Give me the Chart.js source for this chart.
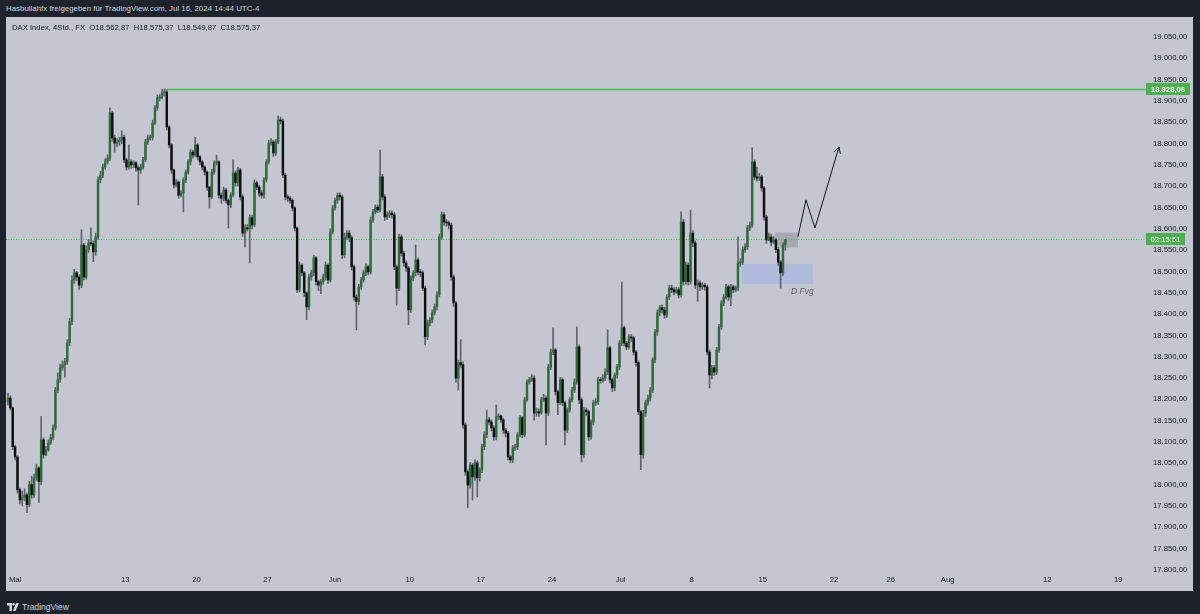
<!DOCTYPE html>
<html lang="de">
<head>
<meta charset="utf-8">
<title>DAX Index, 4Std., FX</title>
<script src="https://cdn.jsdelivr.net/npm/chart.js@4.4.1/dist/chart.umd.min.js"></script>
<style>
  html, body { margin: 0; padding: 0; }
  body {
    width: 1200px; height: 614px; overflow: hidden; position: relative;
    background: #1e222d; font-family: "Liberation Sans", Arial, sans-serif;
  }
  #header {
    position: absolute; left: 6px; top: 4px; color: #d1d4dc;
    font-size: 7.9px; line-height: 10px; white-space: nowrap;
  }
  #pane {
    position: absolute; left: 6px; top: 17px; width: 1187px; height: 574px;
    background: #c4c7d2;
  }
  #legend {
    position: absolute; left: 6px; top: 6px; color: #131722;
    font-size: 7.7px; line-height: 10px; white-space: pre;
  }
  #footer {
    position: absolute; left: 7px; top: 602px; color: #d1d4dc;
    font-size: 8.5px; line-height: 10px; display: flex; align-items: center; gap: 3px;
  }
</style>
</head>
<body>
<div id="header">Hasbullahfx freigegeben für TradingView.com, Jul 16, 2024 14:44 UTC-4</div>
<div id="pane">
  <canvas id="chart" width="1187" height="574"></canvas>
  <div id="legend">DAX Index, 4Std., FX  O18.562,87  H18.575,37  L18.549,87  C18.575,37</div>
</div>
<div id="footer">
  <svg width="12" height="8" viewBox="0 0 12 8">
    <path d="M0 0h5v8H2.5V2.5H0z" fill="#d1d4dc"/>
    <circle cx="6.6" cy="1.3" r="1.3" fill="#d1d4dc"/>
    <path d="M9 0h3L8.6 8H6z" fill="#d1d4dc"/>
  </svg>
  <span>TradingView</span>
</div>
<script>
// 4h candles, 1 May - 16 Jul 2024 (6 per trading day)
const opens = [
  18194, 18203, 18180, 18089, 18065, 17988, 17964, 17971, 17976, 17953,
  18000, 17976, 18016, 18039, 18007, 18105, 18070, 18082, 18098, 18110,
  18133, 18222, 18246, 18274, 18281, 18288, 18333, 18382, 18480, 18497,
  18487, 18468, 18562, 18487, 18551, 18567, 18565, 18546, 18581, 18715,
  18726, 18745, 18757, 18766, 18872, 18813, 18801, 18804, 18808, 18815,
  18762, 18745, 18757, 18750, 18755, 18743, 18738, 18745, 18762, 18804,
  18813, 18815, 18848, 18884, 18907, 18909, 18919, 18921, 18839, 18797,
  18738, 18703, 18710, 18679, 18684, 18715, 18733, 18757, 18780, 18773,
  18797, 18769, 18757, 18745, 18733, 18698, 18675, 18733, 18755, 18757,
  18679, 18672, 18691, 18667, 18656, 18679, 18731, 18708, 18738, 18675,
  18590, 18602, 18600, 18626, 18609, 18708, 18698, 18684, 18679, 18715,
  18757, 18801, 18804, 18778, 18804, 18855, 18853, 18726, 18675, 18672,
  18667, 18649, 18602, 18457, 18515, 18497, 18450, 18417, 18487, 18497,
  18532, 18476, 18468, 18476, 18487, 18515, 18480, 18593, 18649, 18667,
  18679, 18675, 18539, 18581, 18590, 18579, 18511, 18440, 18429, 18464,
  18480, 18497, 18511, 18499, 18621, 18640, 18651, 18644, 18722, 18675,
  18628, 18633, 18637, 18633, 18511, 18461, 18581, 18543, 18520, 18508,
  18410, 18485, 18497, 18527, 18499, 18497, 18461, 18347, 18379, 18386,
  18403, 18417, 18445, 18581, 18633, 18616, 18614, 18609, 18487, 18426,
  18250, 18286, 18281, 18140, 18030, 17999, 18046, 18018, 18051, 18016,
  18035, 18089, 18117, 18152, 18147, 18133, 18112, 18159, 18161, 18152,
  18128, 18121, 18065, 18058, 18086, 18089, 18117, 18157, 18117, 18199,
  18241, 18246, 18250, 18168, 18171, 18168, 18199, 18203, 18168, 18276,
  18311, 18316, 18218, 18192, 18246, 18192, 18128, 18175, 18199, 18222,
  18241, 18323, 18199, 18070, 18175, 18171, 18112, 18147, 18192, 18194,
  18246, 18244, 18250, 18264, 18321, 18246, 18227, 18257, 18276, 18332,
  18368, 18332, 18323, 18346, 18344, 18311, 18286, 18171, 18070, 18168,
  18192, 18203, 18222, 18293, 18358, 18403, 18415, 18410, 18398, 18440,
  18461, 18457, 18452, 18457, 18445, 18616, 18476, 18515, 18476, 18590,
  18567, 18468, 18473, 18464, 18468, 18464, 18311, 18257, 18274, 18264,
  18316, 18370, 18426, 18440, 18464, 18440, 18464, 18457, 18461, 18520,
  18522, 18551, 18558, 18602, 18609, 18757, 18722, 18719, 18722, 18696,
  18628, 18574, 18581, 18569, 18574, 18551, 18522, 18497, 18562.87
];
const highs = [
  18215, 18208, 18182, 18092, 18068, 17992, 17985, 17990, 17980, 18008,
  18020, 18025, 18048, 18042, 18160, 18110, 18090, 18105, 18118, 18140,
  18228, 18262, 18282, 18290, 18296, 18340, 18390, 18490, 18505, 18500,
  18492, 18598, 18566, 18560, 18575, 18602, 18572, 18590, 18722, 18735,
  18752, 18764, 18774, 18884, 18876, 18820, 18812, 18815, 18830, 18820,
  18766, 18797, 18762, 18760, 18758, 18748, 18752, 18768, 18810, 18820,
  18820, 18855, 18890, 18914, 18915, 18928, 18928.06, 18925, 18842, 18800,
  18740, 18716, 18712, 18690, 18720, 18738, 18762, 18786, 18785, 18815,
  18800, 18772, 18760, 18748, 18736, 18700, 18740, 18760, 18773, 18760,
  18684, 18698, 18695, 18670, 18685, 18762, 18736, 18745, 18742, 18680,
  18610, 18610, 18633, 18632, 18715, 18712, 18702, 18690, 18720, 18762,
  18808, 18812, 18808, 18810, 18865, 18862, 18858, 18730, 18680, 18676,
  18670, 18652, 18605, 18522, 18518, 18500, 18452, 18494, 18503, 18538,
  18535, 18480, 18482, 18494, 18522, 18518, 18600, 18655, 18672, 18684,
  18685, 18680, 18590, 18596, 18596, 18584, 18515, 18445, 18470, 18486,
  18503, 18518, 18515, 18628, 18646, 18656, 18656, 18785, 18728, 18680,
  18640, 18643, 18642, 18638, 18515, 18588, 18586, 18548, 18525, 18512,
  18490, 18502, 18562, 18532, 18505, 18502, 18466, 18386, 18392, 18410,
  18424, 18452, 18588, 18640, 18638, 18622, 18618, 18614, 18492, 18430,
  18292, 18340, 18288, 18145, 18035, 18052, 18050, 18058, 18056, 18040,
  18095, 18124, 18175, 18158, 18152, 18138, 18187, 18166, 18164, 18156,
  18132, 18125, 18068, 18092, 18095, 18122, 18162, 18160, 18205, 18246,
  18252, 18258, 18255, 18180, 18178, 18205, 18212, 18208, 18282, 18318,
  18368, 18320, 18222, 18252, 18250, 18196, 18180, 18204, 18228, 18248,
  18370, 18328, 18204, 18182, 18180, 18175, 18152, 18198, 18202, 18252,
  18252, 18258, 18272, 18363, 18325, 18250, 18262, 18282, 18338, 18475,
  18372, 18336, 18352, 18352, 18348, 18315, 18290, 18175, 18174, 18198,
  18210, 18228, 18298, 18364, 18410, 18420, 18422, 18416, 18446, 18468,
  18468, 18462, 18463, 18462, 18640, 18622, 18522, 18520, 18644, 18596,
  18572, 18480, 18478, 18474, 18472, 18468, 18316, 18280, 18280, 18322,
  18376, 18432, 18446, 18470, 18468, 18470, 18468, 18466, 18581, 18530,
  18558, 18565, 18608, 18616, 18790, 18762, 18745, 18730, 18726, 18700,
  18632, 18590, 18588, 18582, 18578, 18556, 18526, 18568, 18575.37
];
const lows = [
  18187, 18175, 18082, 18058, 17980, 17955, 17950, 17962, 17934, 17948,
  17968, 17970, 18010, 17958, 18000, 18062, 18068, 18078, 18094, 18105,
  18128, 18215, 18240, 18268, 18252, 18282, 18326, 18375, 18472, 18478,
  18458, 18462, 18480, 18482, 18545, 18560, 18523, 18538, 18575, 18708,
  18720, 18740, 18752, 18760, 18805, 18780, 18792, 18796, 18800, 18755,
  18738, 18740, 18742, 18744, 18735, 18656, 18730, 18740, 18758, 18798,
  18808, 18808, 18845, 18878, 18900, 18905, 18912, 18832, 18790, 18730,
  18696, 18698, 18672, 18675, 18640, 18708, 18728, 18750, 18766, 18770,
  18762, 18750, 18738, 18726, 18690, 18649, 18670, 18728, 18750, 18672,
  18660, 18665, 18660, 18602, 18650, 18675, 18700, 18700, 18668, 18582,
  18557, 18595, 18520, 18600, 18605, 18692, 18676, 18672, 18672, 18710,
  18752, 18796, 18770, 18772, 18800, 18846, 18720, 18668, 18664, 18660,
  18642, 18595, 18450, 18452, 18490, 18442, 18387, 18410, 18480, 18490,
  18468, 18455, 18448, 18470, 18480, 18472, 18475, 18588, 18644, 18660,
  18668, 18530, 18532, 18575, 18570, 18503, 18432, 18363, 18422, 18458,
  18475, 18490, 18492, 18494, 18615, 18635, 18638, 18640, 18668, 18620,
  18622, 18626, 18625, 18504, 18421, 18455, 18536, 18512, 18500, 18375,
  18404, 18478, 18490, 18492, 18488, 18455, 18328, 18340, 18372, 18380,
  18398, 18410, 18440, 18575, 18608, 18606, 18600, 18480, 18418, 18240,
  18222, 18274, 18132, 18022, 17946, 17992, 17964, 18010, 17971, 18008,
  18028, 18082, 18110, 18140, 18126, 18104, 18105, 18152, 18145, 18120,
  18112, 18058, 18051, 18052, 18080, 18082, 18112, 18110, 18112, 18195,
  18236, 18242, 18151, 18160, 18160, 18165, 18195, 18093, 18162, 18270,
  18305, 18210, 18164, 18188, 18185, 18093, 18122, 18170, 18194, 18216,
  18236, 18190, 18053, 18064, 18162, 18104, 18106, 18140, 18186, 18188,
  18238, 18240, 18244, 18258, 18238, 18218, 18220, 18250, 18270, 18326,
  18325, 18316, 18318, 18336, 18304, 18278, 18164, 18035, 18062, 18160,
  18186, 18196, 18216, 18286, 18350, 18396, 18402, 18390, 18392, 18434,
  18450, 18445, 18448, 18438, 18440, 18468, 18470, 18468, 18470, 18558,
  18460, 18430, 18455, 18458, 18456, 18304, 18227, 18248, 18256, 18258,
  18310, 18364, 18420, 18435, 18432, 18420, 18450, 18452, 18455, 18512,
  18516, 18545, 18552, 18596, 18604, 18715, 18712, 18713, 18688, 18620,
  18566, 18572, 18560, 18565, 18544, 18514, 18461, 18490, 18549.87
];
const closes = [
  18203, 18180, 18089, 18065, 17988, 17964, 17971, 17976, 17953, 18000,
  17976, 18016, 18039, 18007, 18105, 18070, 18082, 18098, 18110, 18133,
  18222, 18246, 18274, 18281, 18288, 18333, 18382, 18480, 18497, 18487,
  18468, 18562, 18487, 18551, 18567, 18565, 18546, 18581, 18715, 18726,
  18745, 18757, 18766, 18872, 18813, 18801, 18804, 18808, 18815, 18762,
  18745, 18757, 18750, 18755, 18743, 18738, 18745, 18762, 18804, 18813,
  18815, 18848, 18884, 18907, 18909, 18919, 18921, 18839, 18797, 18738,
  18703, 18710, 18679, 18684, 18715, 18733, 18757, 18780, 18773, 18797,
  18769, 18757, 18745, 18733, 18698, 18675, 18733, 18755, 18757, 18679,
  18672, 18691, 18667, 18656, 18679, 18731, 18708, 18738, 18675, 18590,
  18602, 18600, 18626, 18609, 18708, 18698, 18684, 18679, 18715, 18757,
  18801, 18804, 18778, 18804, 18855, 18853, 18726, 18675, 18672, 18667,
  18649, 18602, 18457, 18515, 18497, 18450, 18417, 18487, 18497, 18532,
  18476, 18468, 18476, 18487, 18515, 18480, 18593, 18649, 18667, 18679,
  18675, 18539, 18581, 18590, 18579, 18511, 18440, 18429, 18464, 18480,
  18497, 18511, 18499, 18621, 18640, 18651, 18644, 18722, 18675, 18628,
  18633, 18637, 18633, 18511, 18461, 18581, 18543, 18520, 18508, 18410,
  18485, 18497, 18527, 18499, 18497, 18461, 18347, 18379, 18386, 18403,
  18417, 18445, 18581, 18633, 18616, 18614, 18609, 18487, 18426, 18250,
  18286, 18281, 18140, 18030, 17999, 18046, 18018, 18051, 18016, 18035,
  18089, 18117, 18152, 18147, 18133, 18112, 18159, 18161, 18152, 18128,
  18121, 18065, 18058, 18086, 18089, 18117, 18157, 18117, 18199, 18241,
  18246, 18250, 18168, 18171, 18168, 18199, 18203, 18168, 18276, 18311,
  18316, 18218, 18192, 18246, 18192, 18128, 18175, 18199, 18222, 18241,
  18323, 18199, 18070, 18175, 18171, 18112, 18147, 18192, 18194, 18246,
  18244, 18250, 18264, 18321, 18246, 18227, 18257, 18276, 18332, 18368,
  18332, 18323, 18346, 18344, 18311, 18286, 18171, 18070, 18168, 18192,
  18203, 18222, 18293, 18358, 18403, 18415, 18410, 18398, 18440, 18461,
  18457, 18452, 18457, 18445, 18616, 18476, 18515, 18476, 18590, 18567,
  18468, 18473, 18464, 18468, 18464, 18311, 18257, 18274, 18264, 18316,
  18370, 18426, 18440, 18464, 18440, 18464, 18457, 18461, 18520, 18522,
  18551, 18558, 18602, 18609, 18757, 18722, 18719, 18722, 18696, 18628,
  18574, 18581, 18569, 18574, 18551, 18522, 18497, 18562.87, 18575.37
];

// time axis: slot index of each label (6 slots per trading day)
const tickSlots = [3, 49.5, 79.5, 109.5, 138, 169.5, 199.5, 229.5, 258.5, 288.5, 318.5, 348.5, 372.5, 396.5, 438.5, 468.5];
const tickLabels = ["Mai", "13", "20", "27", "Jun", "10", "17", "24", "Jul", "8", "15", "22", "26", "Aug", "12", "19"];
// price axis
const priceTicks = [
  17800, 17850, 17900, 17950, 18000, 18050, 18100, 18150, 18200,
  18250, 18300, 18350, 18400, 18450, 18500, 18550, 18600, 18650,
  18700, 18750, 18800, 18850, 18900, 18950, 19000, 19050
];

// drawings on the chart (slot index / price)
const highLevel = 18928.06;
const highLevelFrom = 66.3;
const lastPrice = 18575.37;
const countdown = "02:15:51";
const fvgBox = [309.7, 339.7, 18518, 18471];
const blockBox = [323.6, 333.3, 18591, 18556];
const pathSlots = [333.3, 336.7, 340.5, 350.6];
const pathPrices = [18581, 18668, 18602, 18792];
const fvgLabel = [330.4, 18452, "D Fvg"];

const UP = "#2f6d38";
const DOWN = "#0e0f12";
const WICK = "#60636e";
const GREEN = "#4caf50";
const TEXT = "#131722";
const FONT = "'Liberation Sans', Arial, sans-serif";

function formatDe(v) {
  const parts = v.toFixed(2).split(".");
  return parts[0].replace(/\B(?=(\d{3})+(?!\d))/g, ".") + "," + parts[1];
}

const slots = closes.map((c, i) => i);
const bodies = slots.map((i) => ({ x: i, y: [opens[i], closes[i]] }));
const wicks = slots.map((i) => ({ x: i, y: [lows[i], highs[i]] }));
const bodyColors = slots.map((i) => (closes[i] >= opens[i] ? UP : DOWN));

const drawings = {
  id: "drawings",
  beforeDatasetsDraw(chart) {
    const { ctx, chartArea: a, scales } = chart;
    const x = scales.x;
    const y = scales.y;
    ctx.save();
    ctx.beginPath();
    ctx.rect(a.left, a.top, a.right - a.left, a.bottom - a.top);
    ctx.clip();

    ctx.fillStyle = "rgba(100, 140, 255, 0.22)";
    ctx.fillRect(x.getPixelForValue(fvgBox[0]), y.getPixelForValue(fvgBox[2]),
      x.getPixelForValue(fvgBox[1]) - x.getPixelForValue(fvgBox[0]),
      y.getPixelForValue(fvgBox[3]) - y.getPixelForValue(fvgBox[2]));

    ctx.fillStyle = "rgba(105, 108, 120, 0.32)";
    ctx.fillRect(x.getPixelForValue(blockBox[0]), y.getPixelForValue(blockBox[2]),
      x.getPixelForValue(blockBox[1]) - x.getPixelForValue(blockBox[0]),
      y.getPixelForValue(blockBox[3]) - y.getPixelForValue(blockBox[2]));
    ctx.restore();

    // levels run into the price axis up to the labels
    ctx.save();
    const hy = Math.round(y.getPixelForValue(highLevel)) + 0.5;
    ctx.strokeStyle = "#3dbf45";
    ctx.lineWidth = 1.3;
    ctx.beginPath();
    ctx.moveTo(x.getPixelForValue(highLevelFrom), hy);
    ctx.lineTo(a.right + 8, hy);
    ctx.stroke();

    const py = Math.round(y.getPixelForValue(lastPrice)) + 0.5;
    ctx.strokeStyle = "#3dbf45";
    ctx.lineWidth = 1;
    ctx.setLineDash([1, 1.5]);
    ctx.beginPath();
    ctx.moveTo(a.left, py);
    ctx.lineTo(a.right + 8, py);
    ctx.stroke();
    ctx.restore();
  },
  afterDraw(chart) {
    const { ctx, chartArea: a, scales } = chart;
    const x = scales.x;
    const y = scales.y;
    ctx.save();

    // projected path with arrow head
    const px = pathSlots.map((v) => x.getPixelForValue(v));
    const pyv = pathPrices.map((v) => y.getPixelForValue(v));
    ctx.strokeStyle = TEXT;
    ctx.lineWidth = 1;
    ctx.beginPath();
    ctx.moveTo(px[0], pyv[0]);
    for (let i = 1; i < px.length; i++) ctx.lineTo(px[i], pyv[i]);
    ctx.stroke();
    const n = px.length - 1;
    const ang = Math.atan2(pyv[n] - pyv[n - 1], px[n] - px[n - 1]);
    ctx.beginPath();
    ctx.moveTo(px[n] - 7 * Math.cos(ang - 0.5), pyv[n] - 7 * Math.sin(ang - 0.5));
    ctx.lineTo(px[n], pyv[n]);
    ctx.lineTo(px[n] - 7 * Math.cos(ang + 0.5), pyv[n] - 7 * Math.sin(ang + 0.5));
    ctx.stroke();

    ctx.fillStyle = "#5b5e69";
    ctx.font = "italic 8.5px " + FONT;
    ctx.textAlign = "left";
    ctx.textBaseline = "middle";
    ctx.fillText(fvgLabel[2], x.getPixelForValue(fvgLabel[0]), y.getPixelForValue(fvgLabel[1]));

    // axis labels
    ctx.font = "bold 7.7px " + FONT;
    ctx.textAlign = "center";
    const hy = y.getPixelForValue(highLevel);
    ctx.fillStyle = GREEN;
    ctx.fillRect(a.right + 8, Math.round(hy) - 6, 44, 12);
    ctx.fillStyle = "#ffffff";
    ctx.fillText(formatDe(highLevel), a.right + 30, Math.round(hy) + 0.5);

    const cy = y.getPixelForValue(lastPrice);
    ctx.fillStyle = GREEN;
    ctx.fillRect(a.right + 8, Math.round(cy) - 6, 39, 12);
    ctx.fillStyle = "#ffffff";
    ctx.font = "7.7px " + FONT;
    ctx.fillText(countdown, a.right + 27.5, Math.round(cy) + 0.5);
    ctx.restore();
  }
};

const slotWidth = 2.37;
const xMin = -2 / slotWidth;
const xMax = xMin + 1132 / slotWidth;

new Chart(document.getElementById("chart"), {
  type: "bar",
  data: {
    datasets: [
      {
        label: "Körper",
        data: bodies,
        backgroundColor: bodyColors,
        barThickness: 1.8,
        minBarLength: 1,
        grouped: false,
        order: 1
      },
      {
        label: "Docht",
        data: wicks,
        backgroundColor: WICK,
        barThickness: 1,
        grouped: false,
        order: 2
      }
    ]
  },
  options: {
    responsive: false,
    animation: false,
    layout: { padding: 0 },
    plugins: { legend: { display: false }, tooltip: { enabled: false } },
    scales: {
      x: {
        type: "linear",
        offset: false,
        min: xMin,
        max: xMax,
        grid: { display: false, drawTicks: false },
        border: { display: false },
        afterBuildTicks: (axis) => {
          axis.ticks = tickSlots.map((v) => ({ value: v }));
        },
        afterFit: (axis) => {
          axis.height = 19;
          axis.paddingLeft = 0;
          axis.paddingRight = 0;
        },
        ticks: {
          autoSkip: false,
          maxRotation: 0,
          padding: 3,
          color: TEXT,
          font: { family: FONT, size: 7.7 },
          callback: (v, i) => tickLabels[i]
        }
      },
      y: {
        position: "right",
        min: 17795,
        max: 19097,
        grid: { display: false, drawTicks: false },
        border: { display: false },
        afterBuildTicks: (axis) => {
          axis.ticks = priceTicks.map((v) => ({ value: v }));
        },
        afterFit: (axis) => {
          axis.width = 55;
          axis.paddingTop = 0;
          axis.paddingBottom = 0;
        },
        ticks: {
          autoSkip: false,
          padding: 15,
          color: TEXT,
          font: { family: FONT, size: 7.7 },
          callback: (v) => formatDe(v)
        }
      }
    }
  },
  plugins: [drawings]
});
</script>
</body>
</html>
